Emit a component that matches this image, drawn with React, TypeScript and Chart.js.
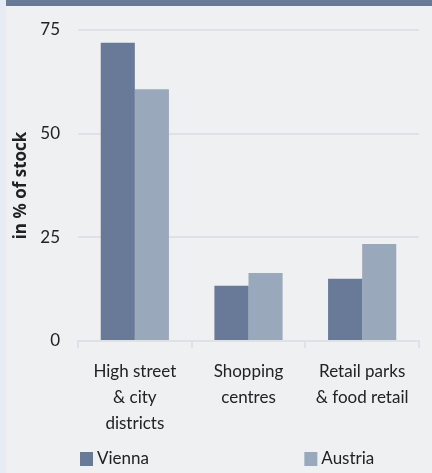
import React, { useEffect, useRef } from "react";
import { Chart, registerables } from "chart.js";

Chart.register(...registerables);

const categories: string[][] = [
  ["High street", "& city", "districts"],
  ["Shopping", "centres"],
  ["Retail parks", "& food retail"],
];
const seriesNames = ["Vienna", "Austria"];
const vienna = [71.9, 13.3, 15.0];
const austria = [60.7, 16.4, 23.4];
const yTicks = [0, 25, 50, 75];

const DARK = "#687a98";
const LIGHT = "#9aa8bb";
const BG = "#eff0f2";
const STRIP = "#e6ebf5";
const GRID = "#dfe1e4";
const TEXT = "#222222";
const FONT = "Lato";

const bgPlugin = {
  id: "bgPlugin",
  beforeDraw(chart: any) {
    const { ctx, width, height } = chart;
    ctx.save();
    ctx.fillStyle = BG;
    ctx.fillRect(0, 0, width, height);
    ctx.fillStyle = STRIP;
    ctx.fillRect(0, 0, 6, height);
    ctx.fillStyle = DARK;
    ctx.fillRect(6, 0, width - 6, 6);
    ctx.restore();
  },
};

const legendPlugin = {
  id: "customLegend",
  afterDraw(chart: any) {
    const { ctx, chartArea } = chart;
    const x = chart.scales.x;
    const half = (x.getPixelForValue(1) - x.getPixelForValue(0)) / 2;
    const positions = [chartArea.left + 2, x.getPixelForValue(2) - half - 1];
    const cy = 459;
    ctx.save();
    ctx.font = `17px ${FONT}`;
    ctx.textBaseline = "middle";
    ctx.textAlign = "left";
    chart.data.datasets.forEach((ds: any, i: number) => {
      const px = positions[i];
      ctx.fillStyle = ds.backgroundColor;
      ctx.fillRect(px, cy - 7, 13, 14);
      ctx.fillStyle = TEXT;
      ctx.fillText(ds.label, px + 17, cy);
    });
    ctx.restore();
  },
};

export default function App() {
  const ref = useRef<HTMLCanvasElement>(null);
  useEffect(() => {
    document.body.style.margin = "0";
    const chart = new Chart(ref.current!, {
      type: "bar",
      data: {
        labels: categories,
        datasets: [
          { label: seriesNames[0], data: vienna, backgroundColor: DARK },
          { label: seriesNames[1], data: austria, backgroundColor: LIGHT },
        ],
      },
      options: {
        responsive: false,
        animation: false,
        layout: { padding: { left: 6, right: 13, top: 30, bottom: 25 } },
        datasets: { bar: { categoryPercentage: 0.6, barPercentage: 1 } },
        plugins: { legend: { display: false }, tooltip: { enabled: false } },
        scales: {
          x: {
            grid: {
              display: true,
              drawOnChartArea: false,
              drawTicks: true,
              tickLength: 7,
              color: GRID,
              lineWidth: 2,
            },
            border: { display: true, color: GRID, width: 2 },
            ticks: {
              autoSkip: false,
              maxRotation: 0,
              minRotation: 0,
              padding: 11,
              color: TEXT,
              font: { family: FONT, size: 17, lineHeight: 1.53 },
            },
          },
          y: {
            min: 0,
            max: 75,
            afterBuildTicks(scale: any) {
              scale.ticks = yTicks.map((v) => ({ value: v }));
            },
            afterFit(scale: any) {
              scale.width = 72;
            },
            grid: { color: GRID, lineWidth: 2, drawTicks: false },
            border: { display: false },
            ticks: {
              padding: 18,
              color: TEXT,
              font: { family: FONT, size: 17 },
            },
            title: {
              display: true,
              text: "in % of stock",
              color: TEXT,
              font: { family: "Open Sans", size: 17, weight: "bold" },
              padding: { top: 5, bottom: 4 },
            },
          },
        },
      },
      plugins: [bgPlugin, legendPlugin],
    });
    return () => chart.destroy();
  }, []);
  return <canvas ref={ref} width={432} height={473} style={{ display: "block" }} />;
}
